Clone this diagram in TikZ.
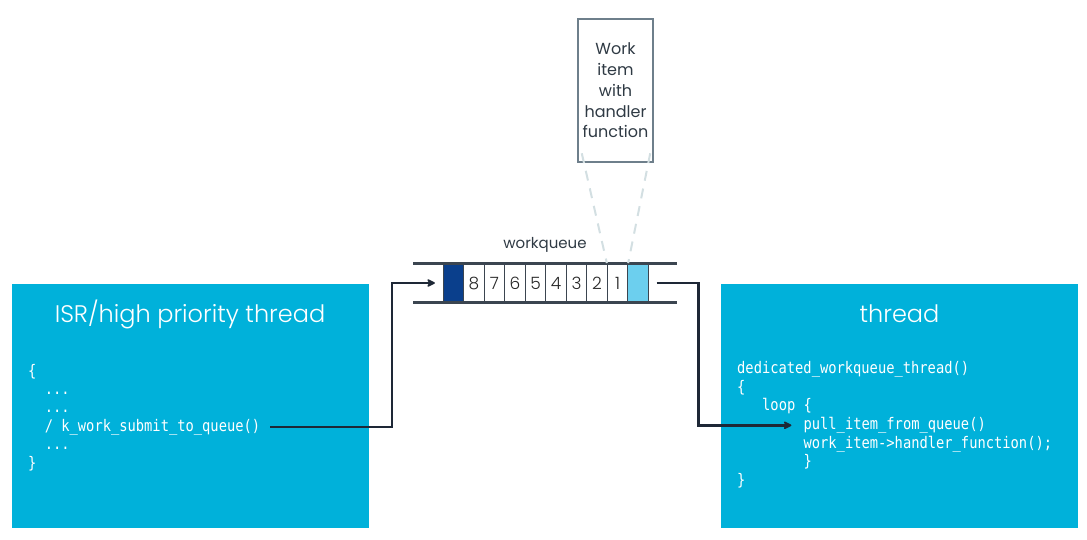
\documentclass[tikz,border=0pt]{standalone}
\usepackage{fontspec}
\newfontfamily\sansfont{Poppins}
\newfontfamily\titlefont{Poppins Light}
\newfontfamily\codefont[FakeStretch=0.86]{DejaVu Sans Mono}
\usetikzlibrary{arrows.meta,positioning}

\definecolor{boxblue}{HTML}{00B1DA}
\definecolor{headblue}{HTML}{0A3F8C}
\definecolor{tailblue}{HTML}{6CCFEE}
\definecolor{flowcol}{HTML}{1E2836}
\definecolor{qlinecol}{HTML}{3B4550}
\definecolor{itemgray}{HTML}{6E7F8B}
\definecolor{zoomcol}{HTML}{D3DFE2}
\definecolor{labelcol}{HTML}{2F3A44}

\begin{document}
\begin{tikzpicture}[x=1pt,y=-1pt,node distance=20.5pt,on grid,
        threadbox/.style={fill=boxblue,draw=none,minimum width=357pt,minimum height=244pt,inner sep=0pt},
        boxtitle/.style={anchor=base,text=white,font=\titlefont\fontsize{24}{28}\selectfont},
        code/.style={anchor=base west,inner sep=0pt,text=white,font=\codefont\fontsize{16}{18}\selectfont},
        cell/.style={draw=qlinecol,line width=0.8pt,minimum width=20.5pt,minimum height=39pt,inner sep=0pt,
            text=black!85,font=\titlefont\fontsize{17}{20}\selectfont},
        qline/.style={draw=qlinecol,line width=2.5pt},
        flow/.style={draw=flowcol,line width=2.5pt,-{Stealth[round,length=10pt,width=10pt]}},
        zoomline/.style={draw=zoomcol,line width=2pt,dash pattern=on 10pt off 8pt}]
    \useasboundingbox (0,0) rectangle (1087,539);

    \node[threadbox]                at (190,406)    (isr)   {};
    \node[boxtitle]                 at (190,322.5)          {ISR/high priority thread};
    \node[code]                     at (28,376)     (isr1)  {\{};
    \node[code]                     at (44.6,394.4) (isr2)  {...};
    \node[code]                     at (44.6,412.8) (isr3)  {...};
    \node[code]                     at (44.6,431.2) (submit){/ k\_work\_submit\_to\_queue()};
    \node[code]                     at (44.6,449.6) (isr5)  {...};
    \node[code]                     at (28,468)     (isr6)  {\}};

    \node[threadbox]                at (899.5,406)  (thr)   {};
    \node[boxtitle]                 at (899.5,322.5)        {thread};
    \node[code]                     at (737,373.5)  (thr1)  {dedicated\_workqueue\_thread()};
    \node[code]                     at (737,392.2)  (thr2)  {\{};
    \node[code]                     at (762,410.8)  (thr3)  {loop \{};
    \node[code]                     at (803.4,429.5)(pull)  {pull\_item\_from\_queue()};
    \node[code]                     at (803.4,448.2)(thr5)  {work\_item->handler\_function();};
    \node[code]                     at (803.4,466.8)(thr6)  {\}};
    \node[code]                     at (737,485.5)  (thr7)  {\}};

    \node[cell,fill=headblue]       at (453.5,283)  (head)  {};
    \node[cell,right=of head]       (c8)    {8};
    \node[cell,right=of c8]         (c7)    {7};
    \node[cell,right=of c7]         (c6)    {6};
    \node[cell,right=of c6]         (c5)    {5};
    \node[cell,right=of c5]         (c4)    {4};
    \node[cell,right=of c4]         (c3)    {3};
    \node[cell,right=of c3]         (c2)    {2};
    \node[cell,right=of c2]         (c1)    {1};
    \node[cell,fill=tailblue,right=of c1] (tail) {};
    \draw[qline] (413,263.5) -- (677,263.5);
    \draw[qline] (413,302.5) -- (677,302.5);
    \node[anchor=base,text=labelcol,font=\sansfont\fontsize{15}{18}\selectfont]
                                    at (545,248)    (wq)    {workqueue};

    \node[draw=itemgray,line width=2.5pt,fill=white,minimum width=75pt,minimum height=143pt,
          align=center,text=labelcol,font=\sansfont\fontsize{16}{20.7}\selectfont]
                                    at (615.5,90.5) (item)  {Work\\item\\with\\handler\\function};
    \draw[zoomline] ([xshift=5pt,yshift=10pt]item.south west) -- (c1.north west);
    \draw[zoomline] ([xshift=-4pt,yshift=10pt]item.south east) -- (c1.north east);

    \draw[flow,shorten <=10pt,shorten >=8pt] (submit.east) -| ([xshift=-51pt]head.west) -- (head.west);
    \draw[flow,shorten <=8pt,shorten >=12pt] (tail.east) -- ++(50,0) |- (pull.west);
\end{tikzpicture}
\end{document}
